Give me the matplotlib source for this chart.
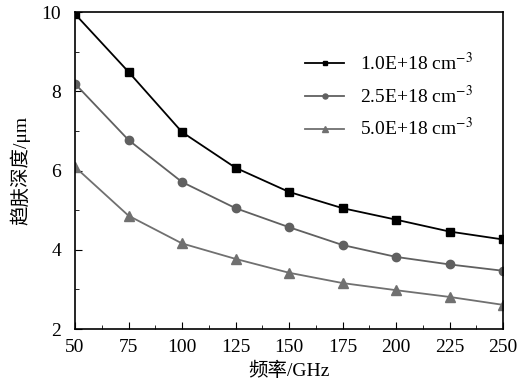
import matplotlib
matplotlib.use("Agg")
import matplotlib.pyplot as plt
from matplotlib.ticker import MultipleLocator

plt.rcParams['font.family'] = ['Liberation Serif', 'Noto Sans CJK SC']
plt.rcParams['mathtext.fontset'] = 'stix'

freq = [50, 75, 100, 125, 150, 175, 200, 225, 250]
depth_1e18 = [9.95, 8.49, 6.97, 6.07, 5.46, 5.05, 4.76, 4.46, 4.26]
depth_25e18 = [8.19, 6.77, 5.71, 5.05, 4.57, 4.12, 3.82, 3.63, 3.47]
depth_5e18 = [6.09, 4.86, 4.16, 3.77, 3.42, 3.16, 2.98, 2.81, 2.61]
labels = ['1.0E+18 cm$^{-3}$', '2.5E+18 cm$^{-3}$', '5.0E+18 cm$^{-3}$']

fig = plt.figure(figsize=(5.22, 3.88), dpi=100)
ax = fig.add_axes([0.1437, 0.152, 0.82, 0.817])

ax.plot(freq, depth_1e18, color='black', lw=1.3, marker='s', ms=6, label=labels[0])
ax.plot(freq, depth_25e18, color='#606060', lw=1.3, marker='o', ms=6, label=labels[1])
ax.plot(freq, depth_5e18, color='#707070', lw=1.3, marker='^', ms=7, label=labels[2])

ax.set_xlim(50, 250)
ax.set_ylim(2, 10)
ax.xaxis.set_major_locator(MultipleLocator(25))
ax.xaxis.set_minor_locator(MultipleLocator(12.5))
ax.yaxis.set_major_locator(MultipleLocator(2))
ax.yaxis.set_minor_locator(MultipleLocator(1))
ax.tick_params(which='both', direction='in', top=False, right=False, labelsize=14)
ax.tick_params(which='major', length=5)
ax.tick_params(which='minor', length=3)
ax.tick_params(axis='y', pad=10)
ax.tick_params(axis='x', pad=7)
for s in ax.spines.values():
    s.set_linewidth(1.2)

ax.set_xlabel('频率/GHz', fontsize=14, labelpad=4)
ax.set_ylabel('趋肤深度/μm', fontsize=14, labelpad=8)

leg = ax.legend(loc='upper right', bbox_to_anchor=(0.97, 0.93), frameon=False, fontsize=14,
                handlelength=2.0, labelspacing=0.55, markerscale=0.6)

fig.savefig('out.png', dpi=100)
